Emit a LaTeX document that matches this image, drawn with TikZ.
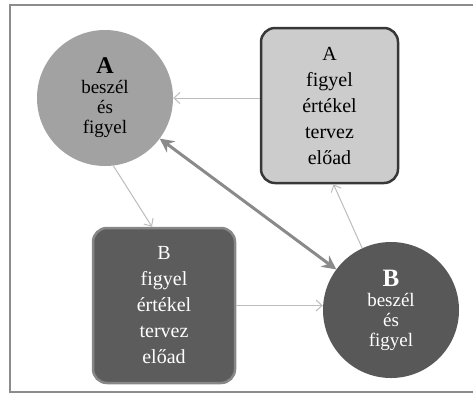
\documentclass[tikz,border=0pt]{standalone}
\usepackage{fontspec}
\setmainfont{Liberation Serif}
\definecolor{talklight}{RGB}{162, 162, 162}
\definecolor{talkdark}{RGB}{88, 88, 88}
\definecolor{boxlight}{RGB}{204, 204, 204}
\definecolor{boxrim}{RGB}{55, 55, 55}
\definecolor{boxdark}{RGB}{92, 92, 92}
\definecolor{boxdarkrim}{RGB}{135, 135, 135}
\definecolor{linkgray}{RGB}{188, 188, 188}
\definecolor{bondgray}{RGB}{138, 138, 138}
\definecolor{framegray}{RGB}{140, 140, 140}
\usetikzlibrary{arrows.meta, positioning}

\tikzset{
  talker/.style={circle, minimum size=136bp, inner sep=0pt, align=center, font=\fontsize{19bp}{20bp}\selectfont},
  stepbox/.style={rounded corners=14bp, line width=2.5bp, inner sep=0pt, align=center, font=\fontsize{20bp}{26bp}\selectfont},
  link/.style={draw=linkgray, line width=1bp, -{Straight Barb[length=6bp, width=11bp]}},
  bond/.style={draw=bondgray, line width=3bp, {Stealth[length=14bp, width=14bp]}-{Stealth[length=14bp, width=14bp]}}
}

\begin{document}
\begin{tikzpicture}[x=1bp, y=-1bp]
  \useasboundingbox (0,0) rectangle (473,394);
  \draw[framegray, line width=1.5bp] (473,5) -| (10,392) -- (473,392);

  % speakers
  \node[talker, fill=talklight] (talkA) at (105,98) {{\fontsize{24bp}{26bp}\selectfont\textbf{A}}\\beszél\\és\\figyel};
  \node[talker, fill=talkdark, text=white] (talkB) at (391,310) {{\fontsize{25bp}{26bp}\selectfont\textbf{B}}\\beszél\\és\\figyel};

  % listeners
  \node[stepbox, draw=boxrim, fill=boxlight, minimum width=137bp, minimum height=155bp] (stepA) at (329.5,105.5) {A\\figyel\\értékel\\tervez\\előad};
  \node[stepbox, draw=boxdarkrim, fill=boxdark, text=white, minimum width=142bp, minimum height=155bp] (stepB) at (164,305.5) {B\\figyel\\értékel\\tervez\\előad};

  \draw[link] (stepA.west |- talkA) -- (talkA);
  \draw[link] (talkA.-83) -- ([xshift=-12bp]stepB.north);
  \draw[link] (stepB.east) -- (talkB.west |- stepB.east);
  \draw[link] (talkB.115) -- ([xshift=4bp]stepA.south);
  \draw[bond] (talkA) -- (talkB);
\end{tikzpicture}
\end{document}
